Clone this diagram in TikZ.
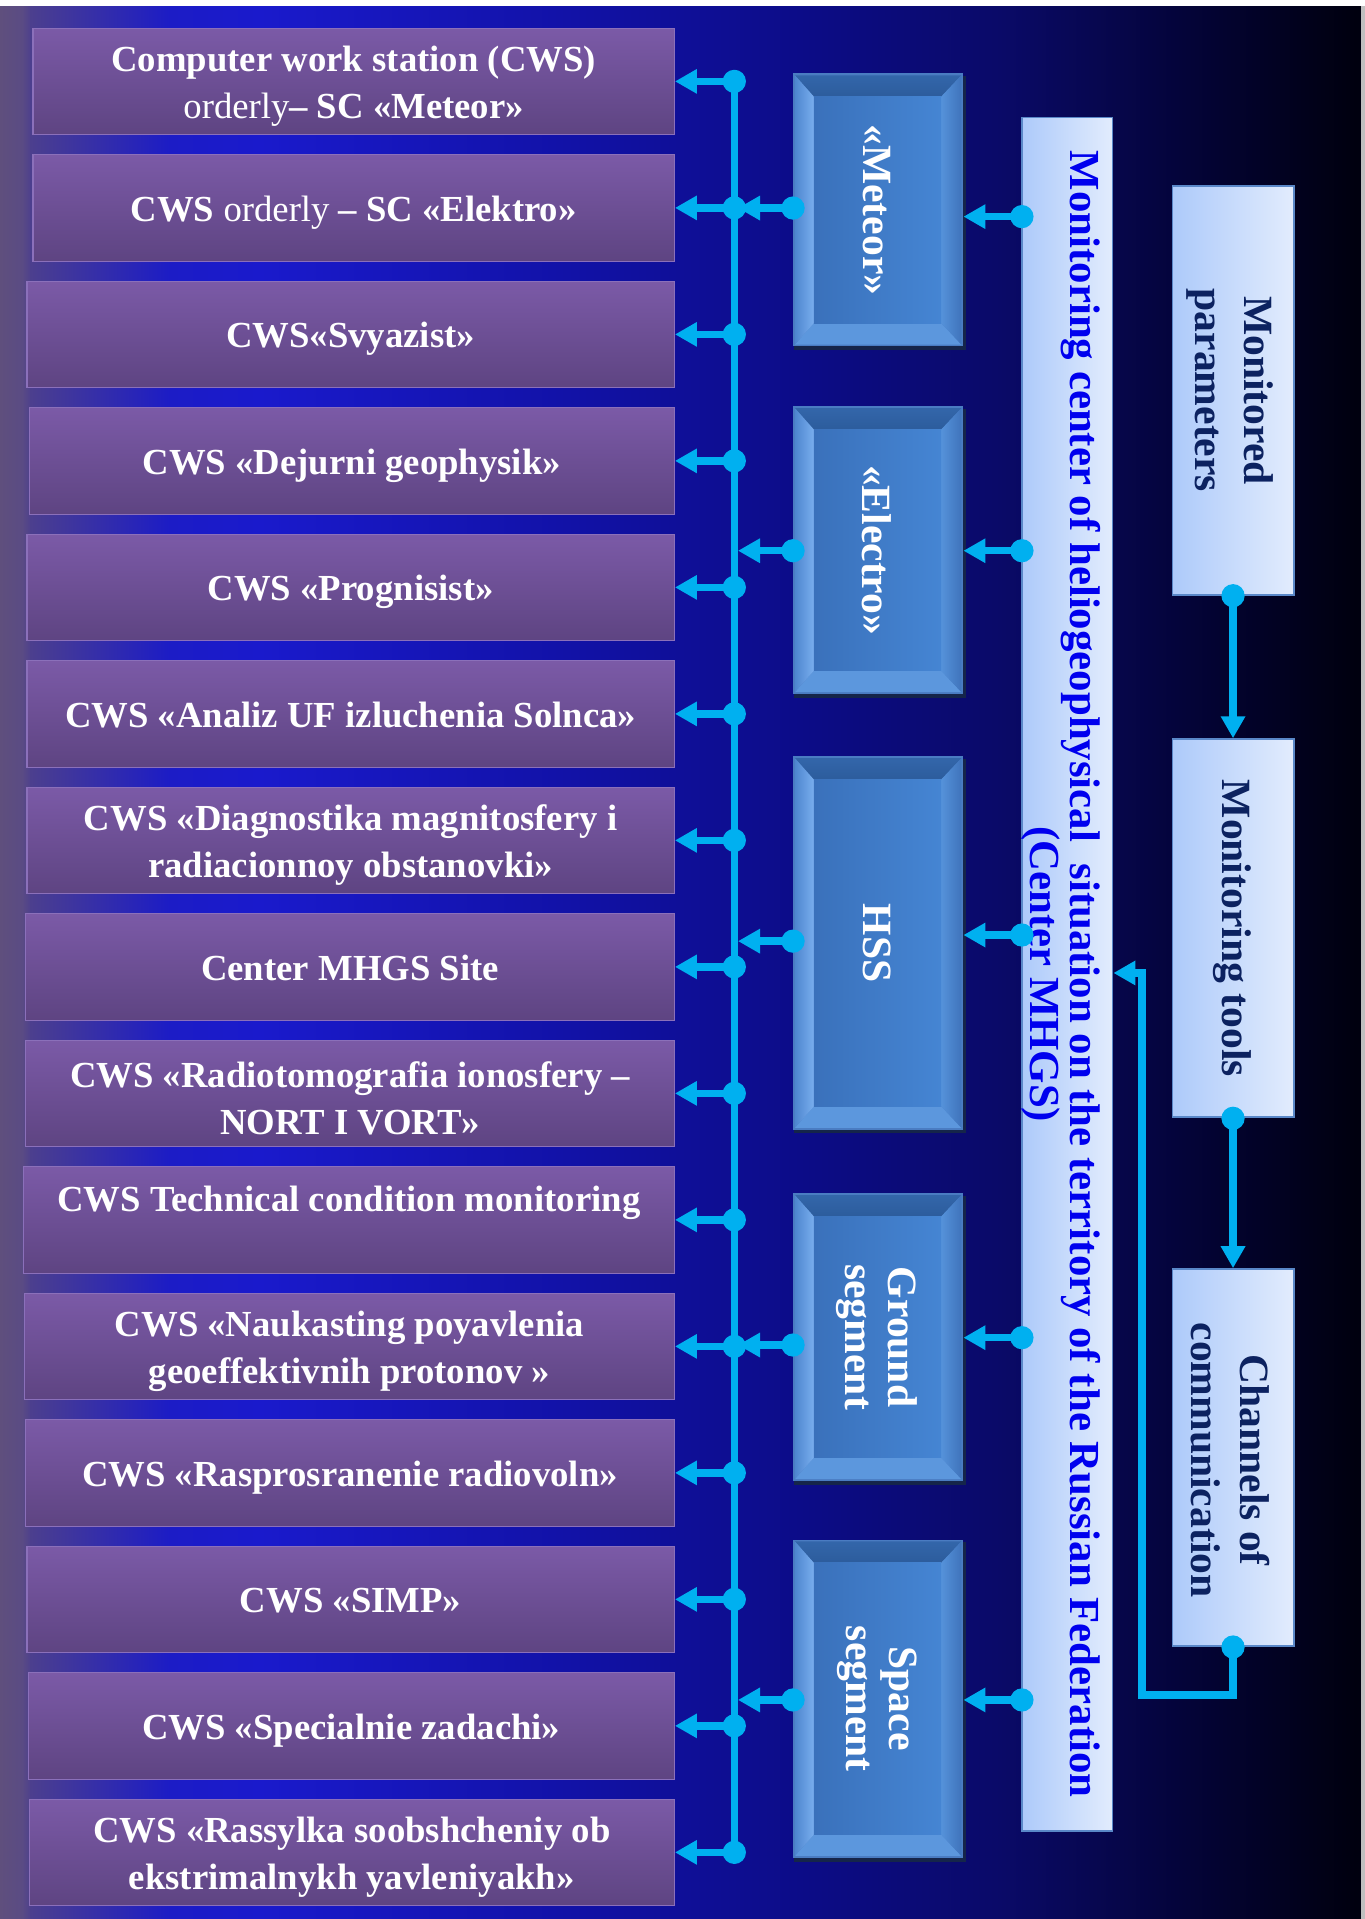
\documentclass[tikz,border=0pt]{standalone}
\usepackage{fontspec}
\setmainfont{Liberation Serif}
\usetikzlibrary{arrows.meta}
\definecolor{bg0}{HTML}{5F4F7D}
\definecolor{bg1}{HTML}{5A4B84}
\definecolor{bg2}{HTML}{4C3F8E}
\definecolor{bg3}{HTML}{1C1CC6}
\definecolor{bg4}{HTML}{1A1ACC}
\definecolor{bg5}{HTML}{1212A8}
\definecolor{bg6}{HTML}{0C0C88}
\definecolor{bg7}{HTML}{0A0A68}
\definecolor{bg8}{HTML}{04043A}
\definecolor{bg9}{HTML}{00000F}
\definecolor{cyanline}{HTML}{00B0F0}
\definecolor{cwsT}{HTML}{7B5AA7}
\definecolor{cwsB}{HTML}{5E4482}
\definecolor{cwsD}{HTML}{8B70BA}
\definecolor{lbL}{HTML}{ADCAFA}
\definecolor{lbR}{HTML}{E2ECFD}
\definecolor{lbD}{HTML}{5A88C8}
\definecolor{mainblue}{HTML}{0000EE}
\definecolor{navytext}{HTML}{0C2260}
\definecolor{bevShadow}{HTML}{15254A}
\definecolor{bevEdge}{HTML}{4A7CC2}
\definecolor{bevTop}{HTML}{3366AA}
\definecolor{bevTopIn}{HTML}{2C5C9C}
\definecolor{bevLo}{HTML}{4E86CF}
\definecolor{bevLi}{HTML}{79AEEE}
\definecolor{bevRi}{HTML}{5592DA}
\definecolor{bevRo}{HTML}{3F74BC}
\definecolor{bevBot}{HTML}{5C97DD}
\definecolor{faceL}{HTML}{3A71BB}
\definecolor{faceR}{HTML}{4585D3}
\newcommand\cwsfont{\fontsize{30}{38}\selectfont\bfseries}
\tikzset{
  cws/.style={rectangle, inner sep=0pt, minimum height=87pt, top color=cwsT,
    bottom color=cwsB, draw=cwsD, line width=1pt},
  cwstext1/.style={text=white, align=center, font=\cwsfont, inner sep=0pt,
    text height=26pt, text depth=4pt},
  cwstext2/.style={text=white, align=center, font=\cwsfont, inner sep=0pt, yshift=-4pt},
  lbox/.style={rectangle, inner sep=0pt, left color=lbL, right color=lbR, draw=lbD, line width=1.5pt},
  maintext/.style={rotate=-90, text=mainblue, align=center, inner sep=0pt,
    font=\fontsize{35}{33}\selectfont\bfseries},
  rtext/.style={rotate=-90, text=navytext, align=center, inner sep=0pt,
    font=\fontsize{34}{40}\selectfont\bfseries},
  bevtext/.style={rotate=-90, text=white, align=center, inner sep=0pt,
    font=\fontsize{34}{35}\selectfont\bfseries},
  arr/.style={draw=cyanline, line width=6pt, -{Triangle[length=18pt,width=19pt]}},
  busline/.style={draw=cyanline, line width=6pt},
  dotn/.style={circle, fill=cyanline, minimum size=19pt, inner sep=0pt},
}
\newcommand\bevbox[6]{%
  \fill[bevShadow] ({#2+1},{#3+2}) rectangle ({#4+2},{#5+3});
  \fill[bevEdge] (#2,#3) rectangle (#4,#5);
  \shade[top color=bevTop, bottom color=bevTopIn] ({#2+1.5},{#3+1.5}) -- ({#4-1.5},{#3+1.5}) -- ({#4-18},{#3+19}) -- ({#2+17},{#3+19}) -- cycle;
  \fill[bevBot] ({#2+1.5},{#5-1.5}) -- ({#4-1.5},{#5-1.5}) -- ({#4-18},{#5-19}) -- ({#2+17},{#5-19}) -- cycle;
  \shade[left color=bevLo, right color=bevLi] ({#2+1.5},{#3+1.5}) -- ({#2+17},{#3+19}) -- ({#2+17},{#5-19}) -- ({#2+1.5},{#5-1.5}) -- cycle;
  \shade[left color=bevRi, right color=bevRo] ({#4-1.5},{#3+1.5}) -- ({#4-18},{#3+19}) -- ({#4-18},{#5-19}) -- ({#4-1.5},{#5-1.5}) -- cycle;
  \shade[left color=faceL, right color=faceR] ({#2+17},{#3+19}) rectangle ({#4-18},{#5-19});
  \node[inner sep=0pt, minimum width={#4-#2}, minimum height={#5-#3}] (#1) at ({(#2+#4)/2},{(#3+#5)/2}) {};
  \node[bevtext] at ({(#2+#4)/2-1},{(#3+#5)/2}) {#6};
}
\begin{document}
\begin{tikzpicture}[x=1pt,y=-1pt]
\useasboundingbox (0,0) rectangle (1115,1568);
% background
\fill[white] (0,0) rectangle (1115,1568);
\foreach \xa/\xb/\ca/\cb in {0/18/bg0/bg1, 18/25/bg1/bg2, 25/139/bg2/bg3, 139/212/bg3/bg4,
  212/457/bg4/bg5, 457/653/bg5/bg6, 653/817/bg6/bg7, 817/964/bg7/bg8, 964/1107/bg8/bg9}
  \shade[left color=\ca, right color=\cb] (\xa,5) rectangle ({\xb+0.6},1568);
\fill[bg9] (1107,5) rectangle (1112,1568);
\fill[black!25] (1112,5) rectangle (1115,1568);

% CWS boxes
\foreach \i/\lx/\s/\t in {
  1/27/2/{Computer work station (CWS)\\{\mdseries orderly}– SC «Meteor»},
  2/27/1/{CWS {\mdseries orderly} – SC «Elektro»},
  3/22/1/{CWS«Svyazist»},
  4/24/1/{CWS «Dejurni geophysik»},
  5/22/1/{CWS «Prognisist»},
  6/22/1/{CWS «Analiz UF izluchenia Solnca»},
  7/22/2/{CWS «Diagnostika magnitosfery i\\radiacionnoy obstanovki»},
  8/21/1/{Center MHGS Site},
  9/21/2/{CWS «Radiotomografia ionosfery –\\NORT I VORT»},
  10/19/1/{},
  11/20/2/{CWS «Naukasting poyavlenia\\geoeffektivnih protonov »},
  12/21/1/{CWS «Rasprosranenie radiovoln»},
  13/22/1/{CWS «SIMP»},
  14/23/1/{CWS «Specialnie zadachi»},
  15/24/2/{CWS «Rassylka soobshcheniy ob\\ekstrimalnykh yavleniyakh»}}{
  \pgfmathsetmacro\cy{66.5+(\i-1)*103.36}
  \pgfmathsetmacro\cx{(\lx+551)/2}
  \pgfmathsetmacro\w{551-\lx}
  \node[cws, minimum width=\w pt] (c\i) at (\cx,\cy) {};
  \node[cwstext\s] (t\i) at (\cx,\cy) {\t};
  \coordinate (b\i) at (600,\cy);
}
\node[cwstext1] (t10b) at (285,979) {CWS Technical condition monitoring};

% bevel boxes
\bevbox{met}{648}{60}{787}{283}{«Meteor»}
\bevbox{ele}{648}{332}{787}{567}{«Electro»}
\bevbox{hss}{648}{618}{787}{923}{HSS}
\bevbox{gro}{648}{975}{787}{1210}{Ground\\segment}
\bevbox{spa}{648}{1258}{787}{1518}{Space\\segment}

% main box
\node[lbox, minimum width=74pt, minimum height=1400pt] (mc) at (872,796) {};
\node[maintext] (mct) at (867,796) {Monitoring center of heliogeophysical~ situation on the territory of the Russian Federation\\(Center MHGS)};

% right boxes
\node[lbox, minimum width=99pt, minimum height=334pt] (mp) at (1007.5,319) {};
\node[rtext] (mpt) at (1005,319) {Monitored\\parameters};
\node[lbox, minimum width=99pt, minimum height=309pt] (mt) at (1007.5,758.5) {};
\node[rtext] (mtt) at (1007,758.5) {Monitoring tools};
\node[lbox, minimum width=99pt, minimum height=308pt] (cc) at (1007.5,1191) {};
\node[rtext] (cct) at (1005,1193) {Channels of\\communication};

% coordinates
\coordinate (bus) at (603,0);
\coordinate (bl1) at (648,170);
\coordinate (bl2) at (648,450);
\coordinate (bl3) at (648,769);
\coordinate (bl4) at (648,1099);
\coordinate (bl5) at (648,1389);
\coordinate (ml1) at (835,177);
\coordinate (ml2) at (835,450);
\coordinate (ml3) at (835,764);
\coordinate (ml4) at (835,1093);
\coordinate (ml5) at (835,1389);
\coordinate (ret1) at (933,1385);
\coordinate (ret2) at (933,795);

% connectors
\draw[busline] (b1) -- (b15);
\foreach \i in {1,...,15} { \draw[arr] (b\i) -- (c\i.east); }
\foreach \i in {1,...,5} { \draw[arr] (bl\i) -- (bl\i -| bus); }
\draw[arr] (ml1) -- (ml1 -| met.east);
\draw[arr] (ml2) -- (ml2 -| ele.east);
\draw[arr] (ml3) -- (ml3 -| hss.east);
\draw[arr] (ml4) -- (ml4 -| gro.east);
\draw[arr] (ml5) -- (ml5 -| spa.east);
\draw[arr] (mp.south) -- (mt.north);
\draw[arr] (mt.south) -- (cc.north);
\draw[arr] (cc.south) |- (ret1) -- (ret2) -- (ret2 -| mc.east);

% dots
\foreach \i in {1,...,15} { \node[dotn] at (b\i) {}; }
\foreach \i in {1,...,5} { \node[dotn] at (bl\i) {}; \node[dotn] at (ml\i) {}; }
\node[dotn] at (mp.south) {};
\node[dotn] at (mt.south) {};
\node[dotn] at (cc.south) {};
\end{tikzpicture}
\end{document}
